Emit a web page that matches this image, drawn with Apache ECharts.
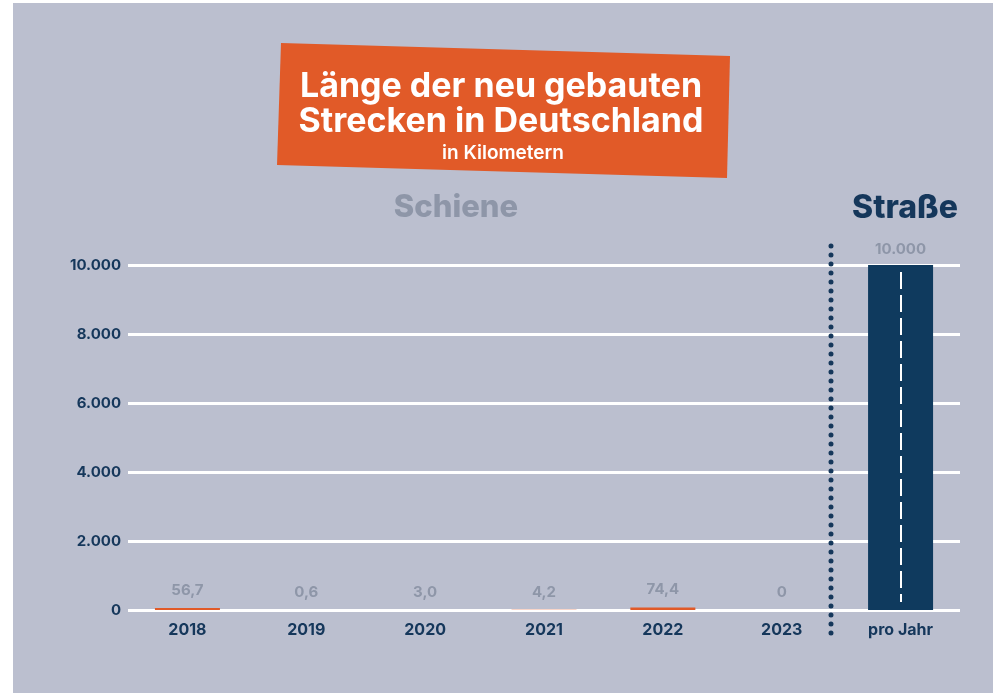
<!DOCTYPE html>
<html>
<head>
<meta charset="utf-8">
<script src="https://cdn.jsdelivr.net/npm/echarts@6/dist/echarts.min.js"></script>
<style>
  html, body { margin: 0; padding: 0; background: #ffffff; }
  #chart { width: 1000px; height: 693px; }
</style>
</head>
<body>
<div id="chart"></div>
<script>
  // Kategorien und Werte (km)
  var categories = ['2018', '2019', '2020', '2021', '2022', '2023', 'pro Jahr'];
  var schieneKm = [56.7, 0.6, 3.0, 4.2, 74.4, 0, null];
  var strasseKm = [null, null, null, null, null, null, 10000];
  var yMax = 10000;
  var yStep = 2000;

  var navy = '#15375b';
  var grey = '#8e96a8';
  var orange = '#e15a28';
  var panel = '#bbbfcf';

  function deNum(v) {
    return String(v).replace(/\B(?=(\d{3})+(?!\d))/g, '.');
  }
  function deDec(v) {
    return v === 0 ? '0' : v.toFixed(1).replace('.', ',');
  }

  var chart = echarts.init(document.getElementById('chart'));
  var font = 'Inter';

  var option = {
    animation: false,
    textStyle: { fontFamily: font },
    graphic: [
      { type: 'rect', z: -10, shape: { x: 13, y: 3, width: 980, height: 690 }, style: { fill: panel } },
      { type: 'polygon', z: 10, shape: { points: [[281, 43], [730, 56], [727, 178], [277, 165]] }, style: { fill: orange } },
      { type: 'text', z: 11, x: 501, y: 87, style: { text: 'Länge der neu gebauten', fill: '#fff', font: '700 34px Inter', align: 'center', verticalAlign: 'middle' } },
      { type: 'text', z: 11, x: 501, y: 122, style: { text: 'Strecken in Deutschland', fill: '#fff', font: '700 34px Inter', align: 'center', verticalAlign: 'middle' } },
      { type: 'text', z: 11, x: 503, y: 153, style: { text: 'in Kilometern', fill: '#fff', font: '600 19px Inter', align: 'center', verticalAlign: 'middle' } },
      { type: 'text', z: 11, x: 456, y: 208, style: { text: 'Schiene', fill: grey, font: '800 31px Inter', align: 'center', verticalAlign: 'middle' } },
      { type: 'text', z: 11, x: 905, y: 208, style: { text: 'Straße', fill: navy, font: '800 32px Inter', align: 'center', verticalAlign: 'middle' } },
      { type: 'line', z: 11, shape: { x1: 831, y1: 246, x2: 831, y2: 640 }, style: { stroke: navy, lineWidth: 5, lineDash: [0, 9], lineCap: 'round' } }
    ],
    grid: { left: 128, right: 40, top: 265, bottom: 83, containLabel: false },
    xAxis: {
      type: 'category',
      data: categories,
      axisLine: { show: false },
      axisTick: { show: false },
      axisLabel: {
        margin: 12,
        color: navy,
        fontSize: 16,
        fontWeight: 700,
        fontFamily: font
      }
    },
    yAxis: {
      type: 'value',
      min: 0,
      max: yMax,
      interval: yStep,
      axisLine: { show: false },
      axisTick: { show: false },
      splitLine: { lineStyle: { color: '#ffffff', width: 3 } },
      axisLabel: {
        margin: 7,
        color: navy,
        fontSize: 15,
        fontWeight: 700,
        fontFamily: font,
        formatter: function (v) { return deNum(v); }
      }
    },
    series: [
      {
        name: 'Schiene',
        type: 'bar',
        data: schieneKm,
        barWidth: 65,
        barGap: '-100%',
        itemStyle: { color: orange },
        label: {
          show: true,
          position: 'top',
          distance: 10,
          color: grey,
          fontSize: 15,
          fontWeight: 700,
          fontFamily: font,
          formatter: function (p) { return deDec(p.value); }
        }
      },
      {
        name: 'Straße',
        type: 'bar',
        data: strasseKm,
        barWidth: 65,
        itemStyle: { color: '#0f3a5e' },
        label: {
          show: true,
          position: 'top',
          distance: 8,
          color: grey,
          fontSize: 15,
          fontWeight: 700,
          fontFamily: font,
          formatter: function (p) { return deNum(p.value); }
        },
        markLine: {
          silent: true,
          symbol: 'none',
          label: { show: false },
          lineStyle: { color: '#ffffff', width: 2, type: [17, 6] },
          data: [[
            { xAxis: 'pro Jahr', yAxis: strasseKm[6] - 200 },
            { xAxis: 'pro Jahr', yAxis: 230 }
          ]]
        }
      }
    ]
  };

  chart.setOption(option);
</script>
</body>
</html>
